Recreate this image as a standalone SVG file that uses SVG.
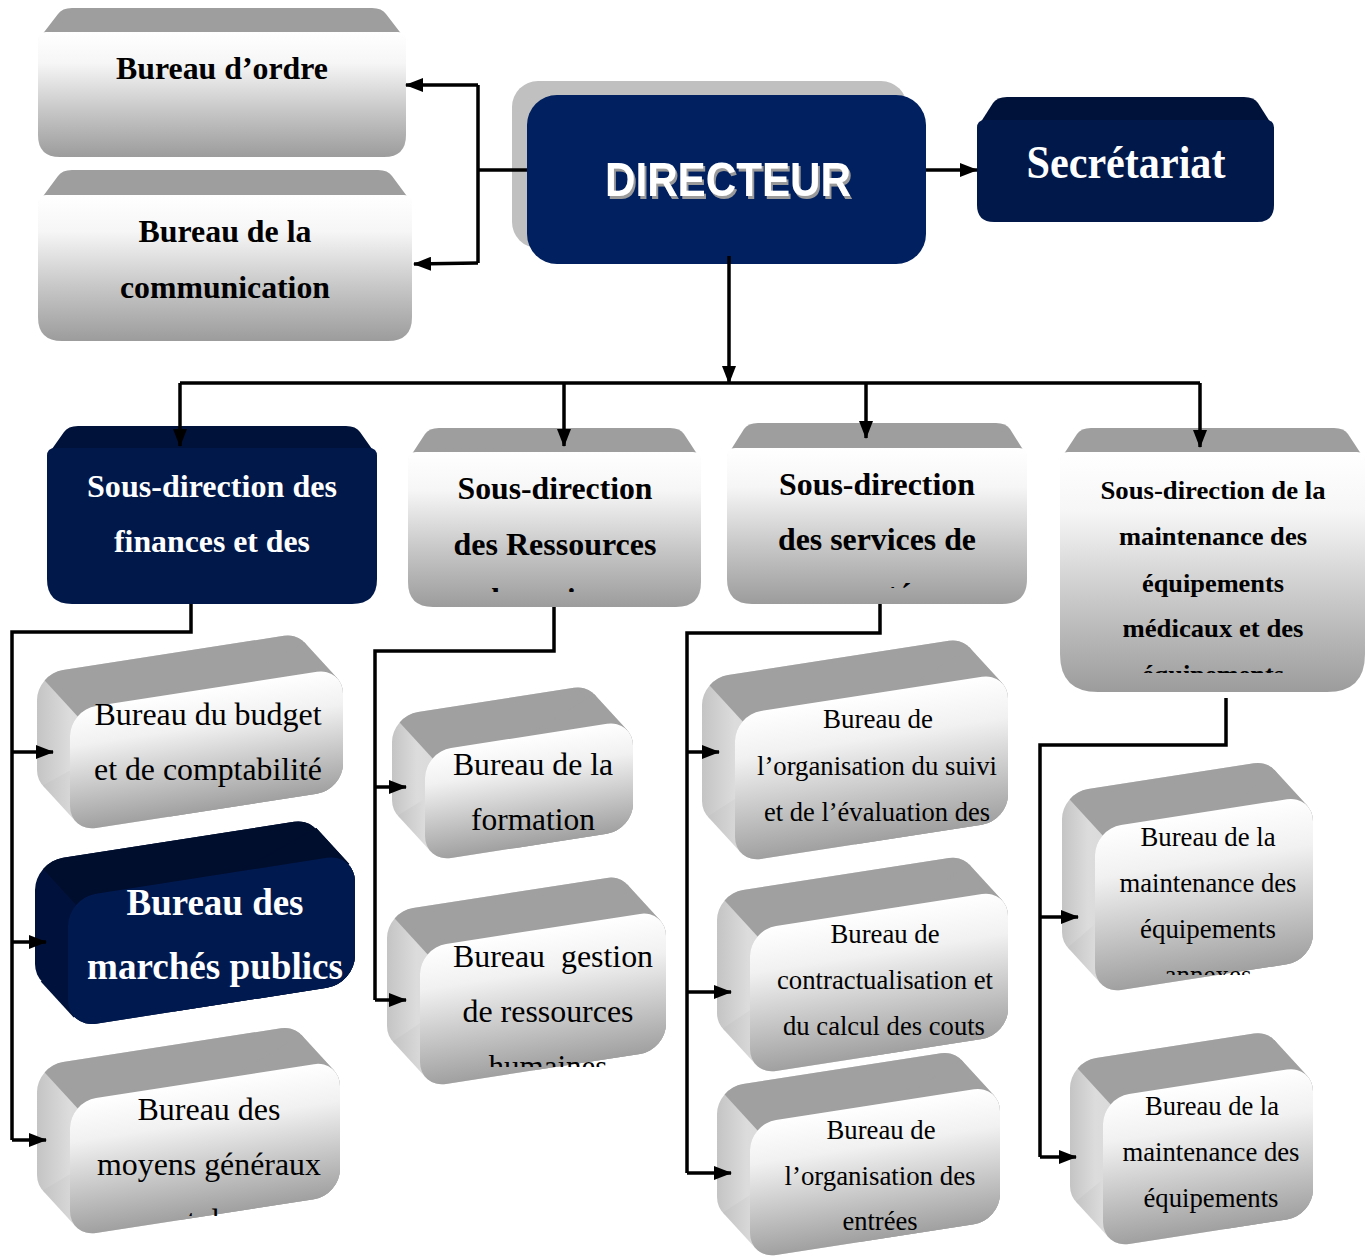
<svg xmlns="http://www.w3.org/2000/svg" xmlns:xlink="http://www.w3.org/1999/xlink" width="1367" height="1258" viewBox="0 0 1367 1258">
<style>
.ln{stroke:#000;stroke-width:3.5;fill:none}
.arr{stroke:#000;stroke-width:3.5;fill:none;marker-end:url(#ah)}
.band{fill:#9e9e9e}
.fr{fill:url(#gF)}
.nband{fill:#00123a}
.nfr{fill:#00184a}
.sd{fill:url(#gS)}
.tp{fill:#a0a0a0}
.f3{fill:url(#g3)}
.nsd{fill:#00123c}
.ntp{fill:#000e2e}
.nf3{fill:#001a4f}
.tb{font-family:'Liberation Serif','Times New Roman',serif;font-weight:bold;text-anchor:middle;fill:#000}
.tr{font-family:'Liberation Serif','Times New Roman',serif;text-anchor:middle;fill:#000}
.w{fill:#fff}
</style>
<defs>
<linearGradient id="gF" x1="0" y1="0" x2="0" y2="1">
<stop offset="0" stop-color="#ffffff"/><stop offset="0.25" stop-color="#f6f6f6"/><stop offset="0.62" stop-color="#c8c8c8"/><stop offset="1" stop-color="#9c9c9c"/>
</linearGradient>
<linearGradient id="g3" x1="0" y1="0" x2="0" y2="1">
<stop offset="0" stop-color="#ffffff"/><stop offset="0.3" stop-color="#f1f1f1"/><stop offset="1" stop-color="#a0a0a0"/>
</linearGradient>
<linearGradient id="gS" x1="0" y1="0" x2="1" y2="0">
<stop offset="0" stop-color="#c4c4c4"/><stop offset="0.12" stop-color="#dcdcdc"/><stop offset="1" stop-color="#d0d0d0"/>
</linearGradient>
<filter id="ts" x="-5%" y="-20%" width="115%" height="150%">
<feDropShadow dx="2" dy="3" stdDeviation="0" flood-color="#9a9a9a" flood-opacity="1"/>
</filter>
<marker id="ah" markerWidth="18" markerHeight="14" refX="17" refY="7" orient="auto" markerUnits="userSpaceOnUse">
<path d="M0,0 L18,7 L0,14 Z" fill="#000"/>
</marker>
<clipPath id="topc" clipPathUnits="userSpaceOnUse">
<polygon points="-190.4,-239 3000,-239 3000,500.8 403.6,500.8"/>
</clipPath>
<clipPath id="cRH"><rect x="400" y="560" width="310" height="32"/></clipPath>
<clipPath id="cSan"><rect x="720" y="560" width="310" height="28"/></clipPath>
<clipPath id="cMnt"><rect x="1060" y="645" width="305" height="28"/></clipPath>
<clipPath id="cMoy"><rect x="60" y="1180" width="290" height="36"/></clipPath>
<clipPath id="cGes"><rect x="410" y="1030" width="260" height="37"/></clipPath>
<clipPath id="cAnx"><rect x="1090" y="945" width="230" height="30"/></clipPath>
</defs>

<g id="n-ordre">
<path class="band" d="M38,40 L58,14 Q62,8 72,8 L372,8 Q382,8 386,14 L406,40 Z"/>
<path class="fr" d="M38,40 Q38,32 46,32 L398,32 Q406,32 406,40 L406,135 Q406,157 384,157 L60,157 Q38,157 38,135 Z"/>
<text class="tb" x="222" y="79" font-size="32" textLength="212" lengthAdjust="spacingAndGlyphs">Bureau d’ordre</text>
</g>

<g id="n-comm">
<path class="band" d="M38,203 L58,176 Q62,170 72,170 L378,170 Q388,170 392,176 L412,203 Z"/>
<path class="fr" d="M38,203 Q38,195 46,195 L404,195 Q412,195 412,203 L412,317 Q412,341 388,341 L62,341 Q38,341 38,317 Z"/>
<text class="tb" x="225" y="242" font-size="32" textLength="173" lengthAdjust="spacingAndGlyphs">Bureau de la</text>
<text class="tb" x="225" y="298" font-size="32" textLength="210" lengthAdjust="spacingAndGlyphs">communication</text>
</g>

<g id="n-directeur">
<rect x="512" y="81" width="395" height="167" rx="26" fill="#c0c0c0"/>
<rect x="527" y="95" width="399" height="169" rx="30" fill="#002060"/>
<text x="728" y="196" filter="url(#ts)" font-family="'Liberation Sans',Arial,sans-serif" font-weight="bold" font-size="48" text-anchor="middle" fill="#ffffff" textLength="246" lengthAdjust="spacingAndGlyphs">DIRECTEUR</text>
</g>

<g id="n-secretariat">
<path class="nband" d="M977,128 L993,103 Q997,97 1007,97 L1244,97 Q1254,97 1258,103 L1274,128 Z"/>
<path class="nfr" d="M977,128 Q977,120 985,120 L1266,120 Q1274,120 1274,128 L1274,205 Q1274,222 1257,222 L994,222 Q977,222 977,205 Z"/>
<text class="tb w" x="1126" y="178" font-size="46" textLength="199" lengthAdjust="spacingAndGlyphs">Secrétariat</text>
</g>

<g id="n-sd-finances">
<path class="nband" d="M47,456 L64,432 Q68,426 78,426 L346,426 Q356,426 360,432 L377,456 Z"/>
<path class="nfr" d="M47,456 Q47,448 55,448 L369,448 Q377,448 377,456 L377,579 Q377,604 352,604 L72,604 Q47,604 47,579 Z"/>
<text class="tb w" x="212" y="497" font-size="31" textLength="250" lengthAdjust="spacingAndGlyphs">Sous-direction des</text>
<text class="tb w" x="212" y="552" font-size="31" textLength="196" lengthAdjust="spacingAndGlyphs">finances et des</text>
</g>

<g id="n-sd-rh">
<path class="band" d="M408,460 L425,434 Q429,428 439,428 L670,428 Q680,428 684,434 L701,460 Z"/>
<path class="fr" d="M408,460 Q408,452 416,452 L693,452 Q701,452 701,460 L701,582 Q701,607 676,607 L433,607 Q408,607 408,582 Z"/>
<text class="tb" x="555" y="499" font-size="31" textLength="195" lengthAdjust="spacingAndGlyphs">Sous-direction</text>
<text class="tb" x="555" y="555" font-size="31" textLength="203" lengthAdjust="spacingAndGlyphs">des Ressources</text>
<text class="tb" x="555" y="610" font-size="31" clip-path="url(#cRH)">humaines</text>
</g>

<g id="n-sd-sante">
<path class="band" d="M727,456 L744,429 Q748,423 758,423 L996,423 Q1006,423 1010,429 L1027,456 Z"/>
<path class="fr" d="M727,456 Q727,448 735,448 L1019,448 Q1027,448 1027,456 L1027,579 Q1027,604 1002,604 L752,604 Q727,604 727,579 Z"/>
<text class="tb" x="877" y="495" font-size="31" textLength="196" lengthAdjust="spacingAndGlyphs">Sous-direction</text>
<text class="tb" x="877" y="550" font-size="31" textLength="198" lengthAdjust="spacingAndGlyphs">des services de</text>
<text class="tb" x="877" y="605" font-size="31" clip-path="url(#cSan)">santé</text>
</g>

<g id="n-sd-maintenance">
<path class="band" d="M1060,460 L1077,434 Q1081,428 1091,428 L1334,428 Q1344,428 1348,434 L1365,460 Z"/>
<path class="fr" d="M1060,460 Q1060,452 1068,452 L1357,452 Q1365,452 1365,460 L1365,654 Q1365,692 1327,692 L1098,692 Q1060,692 1060,654 Z"/>
<text class="tb" x="1213" y="499" font-size="26" textLength="225" lengthAdjust="spacingAndGlyphs">Sous-direction de la</text>
<text class="tb" x="1213" y="545" font-size="26" textLength="188" lengthAdjust="spacingAndGlyphs">maintenance des</text>
<text class="tb" x="1213" y="592" font-size="26" textLength="142" lengthAdjust="spacingAndGlyphs">équipements</text>
<text class="tb" x="1213" y="637" font-size="26" textLength="181" lengthAdjust="spacingAndGlyphs">médicaux et des</text>
<text class="tb" x="1213" y="683" font-size="26" textLength="142" lengthAdjust="spacingAndGlyphs" clip-path="url(#cMnt)">équipements</text>
</g>

<g id="n-budget">
<g transform="matrix(1,-0.155,0,1,70,710)">
<g class="sd"><g id="s-budget"><rect x="-33" y="-41.1" width="273" height="122" rx="26"/><rect width="273" height="122" rx="26"/><polygon points="234.3,-31.4 267.3,9.7 5.7,112.3 -27.3,71.2"/></g></g>
<use xlink:href="#s-budget" class="tp" clip-path="url(#topc)"/>
<rect class="f3" width="273" height="122" rx="26"/>
</g>
<text class="tr" x="208" y="725" font-size="31" textLength="227" lengthAdjust="spacingAndGlyphs">Bureau du budget</text>
<text class="tr" x="208" y="780" font-size="31" textLength="228" lengthAdjust="spacingAndGlyphs">et de comptabilité</text>
</g>

<g id="n-marches">
<g transform="matrix(1,-0.155,0,1,68,898)">
<g class="nsd"><g id="s-marches"><rect x="-33" y="-41.1" width="287" height="130" rx="28"/><rect width="287" height="130" rx="28"/><polygon points="248.3,-31.4 281.3,9.7 5.7,120.3 -27.3,79.2"/></g></g>
<use xlink:href="#s-marches" class="ntp" clip-path="url(#topc)"/>
<rect class="nf3" width="287" height="130" rx="28"/>
</g>
<text class="tb w" x="215" y="915" font-size="37" textLength="177" lengthAdjust="spacingAndGlyphs">Bureau des</text>
<text class="tb w" x="215" y="979" font-size="37" textLength="256" lengthAdjust="spacingAndGlyphs">marchés publics</text>
</g>

<g id="n-moyens">
<g transform="matrix(1,-0.155,0,1,70,1102)">
<g class="sd"><g id="s-moyens"><rect x="-33" y="-41.1" width="270" height="135" rx="26"/><rect width="270" height="135" rx="26"/><polygon points="231.3,-31.4 264.3,9.7 5.7,125.3 -27.3,84.2"/></g></g>
<use xlink:href="#s-moyens" class="tp" clip-path="url(#topc)"/>
<rect class="f3" width="270" height="135" rx="26"/>
</g>
<text class="tr" x="209" y="1120" font-size="31" textLength="143" lengthAdjust="spacingAndGlyphs">Bureau des</text>
<text class="tr" x="209" y="1175" font-size="31" textLength="224" lengthAdjust="spacingAndGlyphs">moyens généraux</text>
<text class="tr" x="203" y="1231" font-size="31" clip-path="url(#cMoy)">et de</text>
</g>

<g id="n-formation">
<g transform="matrix(1,-0.155,0,1,425,752)">
<g class="sd"><g id="s-formation"><rect x="-33" y="-41.1" width="208" height="110" rx="26"/><rect width="208" height="110" rx="26"/><polygon points="169.3,-31.4 202.3,9.7 5.7,100.3 -27.3,59.2"/></g></g>
<use xlink:href="#s-formation" class="tp" clip-path="url(#topc)"/>
<rect class="f3" width="208" height="110" rx="26"/>
</g>
<text class="tr" x="533" y="775" font-size="31" textLength="160" lengthAdjust="spacingAndGlyphs">Bureau de la</text>
<text class="tr" x="533" y="830" font-size="31" textLength="124" lengthAdjust="spacingAndGlyphs">formation</text>
</g>

<g id="n-gestion">
<g transform="matrix(1,-0.155,0,1,420,948)">
<g class="sd"><g id="s-gestion"><rect x="-33" y="-41.1" width="246" height="140" rx="26"/><rect width="246" height="140" rx="26"/><polygon points="207.3,-31.4 240.3,9.7 5.7,130.3 -27.3,89.2"/></g></g>
<use xlink:href="#s-gestion" class="tp" clip-path="url(#topc)"/>
<rect class="f3" width="246" height="140" rx="26"/>
</g>
<text class="tr" x="553" y="967" font-size="31" textLength="200" lengthAdjust="spacingAndGlyphs" xml:space="preserve">Bureau  gestion</text>
<text class="tr" x="548" y="1022" font-size="31" textLength="171" lengthAdjust="spacingAndGlyphs">de ressources</text>
<text class="tr" x="548" y="1077" font-size="31" clip-path="url(#cGes)">humaines</text>
</g>

<g id="n-suivi">
<g transform="matrix(1,-0.155,0,1,735,715)">
<g class="sd"><g id="s-suivi"><rect x="-33" y="-41.1" width="273" height="148" rx="26"/><rect width="273" height="148" rx="26"/><polygon points="234.3,-31.4 267.3,9.7 5.7,138.3 -27.3,97.2"/></g></g>
<use xlink:href="#s-suivi" class="tp" clip-path="url(#topc)"/>
<rect class="f3" width="273" height="148" rx="26"/>
</g>
<text class="tr" x="878" y="728" font-size="27" textLength="110" lengthAdjust="spacingAndGlyphs">Bureau de</text>
<text class="tr" x="877" y="775" font-size="27" textLength="240" lengthAdjust="spacingAndGlyphs">l’organisation du suivi</text>
<text class="tr" x="877" y="821" font-size="27" textLength="226" lengthAdjust="spacingAndGlyphs">et de l’évaluation des</text>
</g>

<g id="n-contract">
<g transform="matrix(1,-0.155,0,1,750,930)">
<g class="sd"><g id="s-contract"><rect x="-33" y="-41.1" width="258" height="145" rx="26"/><rect width="258" height="145" rx="26"/><polygon points="219.3,-31.4 252.3,9.7 5.7,135.3 -27.3,94.2"/></g></g>
<use xlink:href="#s-contract" class="tp" clip-path="url(#topc)"/>
<rect class="f3" width="258" height="145" rx="26"/>
</g>
<text class="tr" x="885" y="943" font-size="27" textLength="109" lengthAdjust="spacingAndGlyphs">Bureau de</text>
<text class="tr" x="885" y="989" font-size="27" textLength="216" lengthAdjust="spacingAndGlyphs">contractualisation et</text>
<text class="tr" x="884" y="1035" font-size="27" textLength="202" lengthAdjust="spacingAndGlyphs">du calcul des couts</text>
</g>

<g id="n-entrees">
<g transform="matrix(1,-0.155,0,1,750,1124)">
<g class="sd"><g id="s-entrees"><rect x="-33" y="-41.1" width="250" height="135" rx="26"/><rect width="250" height="135" rx="26"/><polygon points="211.3,-31.4 244.3,9.7 5.7,125.3 -27.3,84.2"/></g></g>
<use xlink:href="#s-entrees" class="tp" clip-path="url(#topc)"/>
<rect class="f3" width="250" height="135" rx="26"/>
</g>
<text class="tr" x="881" y="1139" font-size="27" textLength="109" lengthAdjust="spacingAndGlyphs">Bureau de</text>
<text class="tr" x="880" y="1185" font-size="27" textLength="191" lengthAdjust="spacingAndGlyphs">l’organisation des</text>
<text class="tr" x="880" y="1230" font-size="27" textLength="75" lengthAdjust="spacingAndGlyphs">entrées</text>
</g>

<g id="n-annexes">
<g transform="matrix(1,-0.155,0,1,1095,829)">
<g class="sd"><g id="s-annexes"><rect x="-33" y="-41.1" width="218" height="165" rx="26"/><rect width="218" height="165" rx="26"/><polygon points="179.3,-31.4 212.3,9.7 5.7,155.3 -27.3,114.2"/></g></g>
<use xlink:href="#s-annexes" class="tp" clip-path="url(#topc)"/>
<rect class="f3" width="218" height="165" rx="26"/>
</g>
<text class="tr" x="1208" y="846" font-size="27" textLength="135" lengthAdjust="spacingAndGlyphs">Bureau de la</text>
<text class="tr" x="1208" y="892" font-size="27" textLength="177" lengthAdjust="spacingAndGlyphs">maintenance des</text>
<text class="tr" x="1208" y="938" font-size="27" textLength="136" lengthAdjust="spacingAndGlyphs">équipements</text>
<text class="tr" x="1208" y="984" font-size="27" clip-path="url(#cAnx)">annexes</text>
</g>

<g id="n-maint-eq">
<g transform="matrix(1,-0.155,0,1,1103,1098)">
<g class="sd"><g id="s-mainteq"><rect x="-33" y="-41.1" width="210" height="150" rx="26"/><rect width="210" height="150" rx="26"/><polygon points="171.3,-31.4 204.3,9.7 5.7,140.3 -27.3,99.2"/></g></g>
<use xlink:href="#s-mainteq" class="tp" clip-path="url(#topc)"/>
<rect class="f3" width="210" height="150" rx="26"/>
</g>
<text class="tr" x="1212" y="1115" font-size="27" textLength="134" lengthAdjust="spacingAndGlyphs">Bureau de la</text>
<text class="tr" x="1211" y="1161" font-size="27" textLength="177" lengthAdjust="spacingAndGlyphs">maintenance des</text>
<text class="tr" x="1211" y="1207" font-size="27" textLength="135" lengthAdjust="spacingAndGlyphs">équipements</text>
</g>

<g id="connectors">
<path class="ln" d="M527,170 H478 M478,85 V263"/>
<path class="arr" d="M478,85 H406"/>
<path class="arr" d="M478,263 L414,264"/>
<path class="arr" d="M926,170 H977"/>
<path class="arr" d="M729,256 V383"/>
<path class="ln" d="M180,383 H1200"/>
<path class="arr" d="M180,383 V446"/>
<path class="arr" d="M564,383 V446"/>
<path class="arr" d="M866,383 V438"/>
<path class="arr" d="M1200,383 V447"/>
<path class="ln" d="M191,604 V632 H12 V1140"/>
<path class="arr" d="M12,752 H53"/>
<path class="arr" d="M12,942 H46"/>
<path class="arr" d="M12,1140 H46"/>
<path class="ln" d="M554,607 V651 H375 V1000"/>
<path class="arr" d="M375,787 H406"/>
<path class="arr" d="M375,1000 H406"/>
<path class="ln" d="M880,604 V633 H687 V1173"/>
<path class="arr" d="M687,752 H719"/>
<path class="arr" d="M687,992 H731"/>
<path class="arr" d="M687,1173 H731"/>
<path class="ln" d="M1226,698 V745 H1040 V1157"/>
<path class="arr" d="M1040,917 H1078"/>
<path class="arr" d="M1040,1157 H1076"/>
</g>
</svg>
